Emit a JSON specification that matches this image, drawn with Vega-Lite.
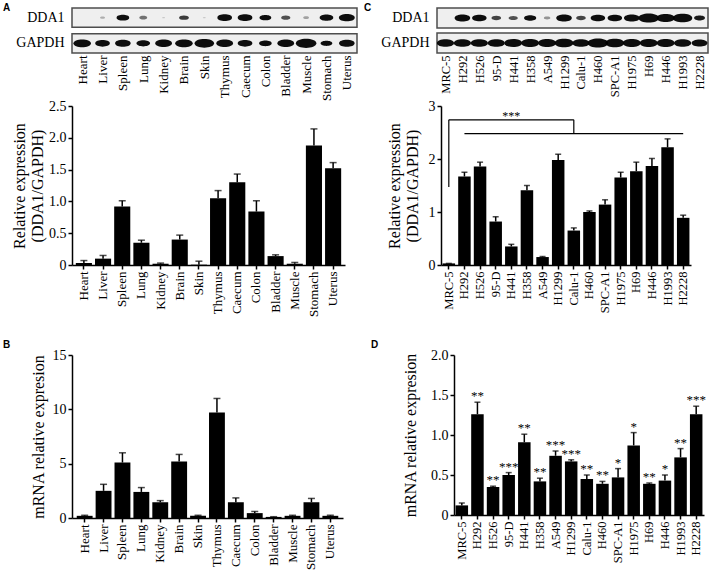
{
  "$schema": "https://vega.github.io/schema/vega-lite/v6.json",
  "background": "white",
  "padding": {"left": 3, "top": 3, "right": 0, "bottom": 0},
  "config": {
    "view": {"stroke": null},
    "font": "Liberation Serif",
    "axis": {
      "domainColor": "black", "domainWidth": 1.5, "tickColor": "black", "tickWidth": 1.5, "tickSize": 4,
      "labelColor": "black", "labelFont": "Liberation Serif", "labelFontSize": 14, "labelPadding": 2, "labelOverlap": false,
      "titleFont": "Liberation Serif", "titleFontSize": 16, "titleFontWeight": "normal", "titleColor": "black", "grid": false
    },
    "title": {"font": "Liberation Sans", "fontSize": 10, "fontWeight": "bold", "anchor": "start", "frame": "group", "color": "black"}
  },
  "datasets": {
    "wbRows": [{"protein": "DDA1"}, {"protein": "GAPDH"}],
    "wbTissue": [
      {"lane": "Heart", "protein": "DDA1", "signal": 0},
      {"lane": "Liver", "protein": "DDA1", "signal": 0.06},
      {"lane": "Spleen", "protein": "DDA1", "signal": 0.38},
      {"lane": "Lung", "protein": "DDA1", "signal": 0.15},
      {"lane": "Kidney", "protein": "DDA1", "signal": 0.02},
      {"lane": "Brain", "protein": "DDA1", "signal": 0.23},
      {"lane": "Skin", "protein": "DDA1", "signal": 0.02},
      {"lane": "Thymus", "protein": "DDA1", "signal": 0.51},
      {"lane": "Caecum", "protein": "DDA1", "signal": 0.51},
      {"lane": "Colon", "protein": "DDA1", "signal": 0.33},
      {"lane": "Bladder", "protein": "DDA1", "signal": 0.2},
      {"lane": "Muscle", "protein": "DDA1", "signal": 0.08},
      {"lane": "Stomach", "protein": "DDA1", "signal": 0.44},
      {"lane": "Uterus", "protein": "DDA1", "signal": 0.6},
      {"lane": "Heart", "protein": "GAPDH", "signal": 0.73},
      {"lane": "Liver", "protein": "GAPDH", "signal": 0.51},
      {"lane": "Spleen", "protein": "GAPDH", "signal": 0.58},
      {"lane": "Lung", "protein": "GAPDH", "signal": 0.44},
      {"lane": "Kidney", "protein": "GAPDH", "signal": 0.66},
      {"lane": "Brain", "protein": "GAPDH", "signal": 0.73},
      {"lane": "Skin", "protein": "GAPDH", "signal": 0.9},
      {"lane": "Thymus", "protein": "GAPDH", "signal": 0.66},
      {"lane": "Caecum", "protein": "GAPDH", "signal": 0.51},
      {"lane": "Colon", "protein": "GAPDH", "signal": 0.38},
      {"lane": "Bladder", "protein": "GAPDH", "signal": 0.66},
      {"lane": "Muscle", "protein": "GAPDH", "signal": 1.0},
      {"lane": "Stomach", "protein": "GAPDH", "signal": 0.33},
      {"lane": "Uterus", "protein": "GAPDH", "signal": 0.58}
    ],
    "wbCell": [
      {"lane": "MRC-5", "protein": "DDA1", "signal": 0},
      {"lane": "H292", "protein": "DDA1", "signal": 0.58},
      {"lane": "H526", "protein": "DDA1", "signal": 0.5},
      {"lane": "95-D", "protein": "DDA1", "signal": 0.22},
      {"lane": "H441", "protein": "DDA1", "signal": 0.2},
      {"lane": "H358", "protein": "DDA1", "signal": 0.35},
      {"lane": "A549", "protein": "DDA1", "signal": 0.1},
      {"lane": "H1299", "protein": "DDA1", "signal": 0.58},
      {"lane": "Calu-1", "protein": "DDA1", "signal": 0.22},
      {"lane": "H460", "protein": "DDA1", "signal": 0.5},
      {"lane": "SPC-A1", "protein": "DDA1", "signal": 0.5},
      {"lane": "H1975", "protein": "DDA1", "signal": 0.58},
      {"lane": "H69", "protein": "DDA1", "signal": 1.0},
      {"lane": "H446", "protein": "DDA1", "signal": 0.78},
      {"lane": "H1993", "protein": "DDA1", "signal": 0.89},
      {"lane": "H2228", "protein": "DDA1", "signal": 0.28},
      {"lane": "MRC-5", "protein": "GAPDH", "signal": 0.7},
      {"lane": "H292", "protein": "GAPDH", "signal": 0.7},
      {"lane": "H526", "protein": "GAPDH", "signal": 0.7},
      {"lane": "95-D", "protein": "GAPDH", "signal": 0.7},
      {"lane": "H441", "protein": "GAPDH", "signal": 0.75},
      {"lane": "H358", "protein": "GAPDH", "signal": 0.75},
      {"lane": "A549", "protein": "GAPDH", "signal": 0.75},
      {"lane": "H1299", "protein": "GAPDH", "signal": 0.85},
      {"lane": "Calu-1", "protein": "GAPDH", "signal": 0.7},
      {"lane": "H460", "protein": "GAPDH", "signal": 1.0},
      {"lane": "SPC-A1", "protein": "GAPDH", "signal": 0.85},
      {"lane": "H1975", "protein": "GAPDH", "signal": 0.75},
      {"lane": "H69", "protein": "GAPDH", "signal": 0.75},
      {"lane": "H446", "protein": "GAPDH", "signal": 0.75},
      {"lane": "H1993", "protein": "GAPDH", "signal": 0.7},
      {"lane": "H2228", "protein": "GAPDH", "signal": 0.6}
    ],
    "protTissue": [
      {"tissue": "Heart", "mean": 0.03, "upper": 0.07},
      {"tissue": "Liver", "mean": 0.1, "upper": 0.15},
      {"tissue": "Spleen", "mean": 0.92, "upper": 1.01},
      {"tissue": "Lung", "mean": 0.35, "upper": 0.39},
      {"tissue": "Kidney", "mean": 0.02, "upper": 0.03},
      {"tissue": "Brain", "mean": 0.4, "upper": 0.47},
      {"tissue": "Skin", "mean": 0.005, "upper": 0.06},
      {"tissue": "Thymus", "mean": 1.05, "upper": 1.17},
      {"tissue": "Caecum", "mean": 1.3, "upper": 1.43},
      {"tissue": "Colon", "mean": 0.84, "upper": 1.01},
      {"tissue": "Bladder", "mean": 0.14, "upper": 0.16},
      {"tissue": "Muscle", "mean": 0.02, "upper": 0.04},
      {"tissue": "Stomach", "mean": 1.88, "upper": 2.14},
      {"tissue": "Uterus", "mean": 1.52, "upper": 1.61}
    ],
    "mrnaTissue": [
      {"tissue": "Heart", "mean": 0.2, "upper": 0.25},
      {"tissue": "Liver", "mean": 2.5, "upper": 3.1},
      {"tissue": "Spleen", "mean": 5.1, "upper": 6.0},
      {"tissue": "Lung", "mean": 2.4, "upper": 2.8},
      {"tissue": "Kidney", "mean": 1.45, "upper": 1.6},
      {"tissue": "Brain", "mean": 5.2, "upper": 5.85},
      {"tissue": "Skin", "mean": 0.2, "upper": 0.25},
      {"tissue": "Thymus", "mean": 9.7, "upper": 11.0},
      {"tissue": "Caecum", "mean": 1.45, "upper": 1.85},
      {"tissue": "Colon", "mean": 0.45, "upper": 0.6},
      {"tissue": "Bladder", "mean": 0.1, "upper": 0.12},
      {"tissue": "Muscle", "mean": 0.2, "upper": 0.25},
      {"tissue": "Stomach", "mean": 1.45, "upper": 1.8},
      {"tissue": "Uterus", "mean": 0.2, "upper": 0.25}
    ],
    "protCell": [
      {"line": "MRC-5", "mean": 0.03, "upper": 0.03},
      {"line": "H292", "mean": 1.67, "upper": 1.75},
      {"line": "H526", "mean": 1.86, "upper": 1.94},
      {"line": "95-D", "mean": 0.82, "upper": 0.91},
      {"line": "H441", "mean": 0.35, "upper": 0.39},
      {"line": "H358", "mean": 1.41, "upper": 1.5},
      {"line": "A549", "mean": 0.15, "upper": 0.16},
      {"line": "H1299", "mean": 1.98, "upper": 2.09},
      {"line": "Calu-1", "mean": 0.65, "upper": 0.7},
      {"line": "H460", "mean": 1.0, "upper": 1.02},
      {"line": "SPC-A1", "mean": 1.14, "upper": 1.23},
      {"line": "H1975", "mean": 1.65, "upper": 1.75},
      {"line": "H69", "mean": 1.77, "upper": 1.94},
      {"line": "H446", "mean": 1.87, "upper": 2.01},
      {"line": "H1993", "mean": 2.22, "upper": 2.38},
      {"line": "H2228", "mean": 0.89, "upper": 0.94}
    ],
    "mrnaCell": [
      {"line": "MRC-5", "mean": 0.12, "upper": 0.15, "sig": ""},
      {"line": "H292", "mean": 1.26, "upper": 1.41, "sig": "**"},
      {"line": "H526", "mean": 0.35, "upper": 0.36, "sig": "**"},
      {"line": "95-D", "mean": 0.5, "upper": 0.53, "sig": "***"},
      {"line": "H441", "mean": 0.91, "upper": 1.01, "sig": "**"},
      {"line": "H358", "mean": 0.42, "upper": 0.46, "sig": "**"},
      {"line": "A549", "mean": 0.74, "upper": 0.8, "sig": "***"},
      {"line": "H1299", "mean": 0.67, "upper": 0.69, "sig": "***"},
      {"line": "Calu-1", "mean": 0.45, "upper": 0.5, "sig": "**"},
      {"line": "H460", "mean": 0.39, "upper": 0.42, "sig": "**"},
      {"line": "SPC-A1", "mean": 0.47, "upper": 0.58, "sig": "*"},
      {"line": "H1975", "mean": 0.87, "upper": 1.03, "sig": "*"},
      {"line": "H69", "mean": 0.39, "upper": 0.4, "sig": "**"},
      {"line": "H446", "mean": 0.43, "upper": 0.5, "sig": "*"},
      {"line": "H1993", "mean": 0.72, "upper": 0.83, "sig": "**"},
      {"line": "H2228", "mean": 1.26, "upper": 1.36, "sig": "***"}
    ],
    "bracket": [
      {"a": "MRC-5", "b": "MRC-5", "lo": 1.47, "hi": 2.74},
      {"a": "MRC-5", "b": "Calu-1", "lo": 2.74, "hi": 2.74},
      {"a": "Calu-1", "b": "Calu-1", "lo": 2.48, "hi": 2.74},
      {"a": "H292", "b": "H2228", "lo": 2.48, "hi": 2.48}
    ],
    "bracketLabel": [{"line": "H441", "y": 2.74, "t": "***"}]
  },
  "vconcat": [
    {
      "hconcat": [
        {
          "width": 285, "height": 45,
          "title": {"text": "A", "dx": -69, "dy": 6, "offset": -8, "baseline": "alphabetic"},
          "encoding": {
            "y": {"field": "protein", "type": "nominal", "sort": null, "scale": {"paddingInner": 0.25, "paddingOuter": 0},
                  "axis": {"title": null, "domain": false, "ticks": false, "labelPadding": 8, "labelFontSize": 14}}
          },
          "layer": [
            {"data": {"name": "wbRows"}, "mark": {"type": "rect", "fill": "#efefef", "stroke": "#4d4d4d", "strokeWidth": 1.5}},
            {
              "data": {"name": "wbTissue"},
              "mark": {"type": "point", "shape": "M-1,0C-1,-0.6,1,-0.6,1,0C1,0.6,-1,0.6,-1,0Z", "filled": true, "color": "#000000", "strokeWidth": 0},
              "encoding": {
                "x": {"field": "lane", "type": "nominal", "sort": null, "scale": {"paddingInner": 0, "paddingOuter": 0.12},
                      "axis": {"title": null, "labelAngle": 270, "domain": false, "ticks": false, "labelFontSize": 13, "labelPadding": 2}},
                "size": {"field": "signal", "type": "quantitative", "scale": {"domain": [0, 1], "range": [0, 420]}, "legend": null},
                "opacity": {"field": "signal", "type": "quantitative", "scale": {"domain": [0, 0.3], "range": [0.1, 0.95], "clamp": true}, "legend": null}
              }
            }
          ]
        },
        {
          "width": 271, "height": 45,
          "title": {"text": "C", "dx": -73, "dy": 6, "offset": -8, "baseline": "alphabetic"},
          "encoding": {
            "y": {"field": "protein", "type": "nominal", "sort": null, "scale": {"paddingInner": 0.2, "paddingOuter": 0},
                  "axis": {"title": null, "domain": false, "ticks": false, "labelPadding": 8, "labelFontSize": 14}}
          },
          "layer": [
            {"data": {"name": "wbRows"}, "mark": {"type": "rect", "fill": "#efefef", "stroke": "#4d4d4d", "strokeWidth": 1.5}},
            {
              "data": {"name": "wbCell"},
              "mark": {"type": "point", "shape": "M-1,0C-1,-0.6,1,-0.6,1,0C1,0.6,-1,0.6,-1,0Z", "filled": true, "color": "#000000", "strokeWidth": 0},
              "encoding": {
                "x": {"field": "lane", "type": "nominal", "sort": null, "scale": {"paddingInner": 0, "paddingOuter": 0.07},
                      "axis": {"title": null, "labelAngle": 270, "domain": false, "ticks": false, "labelFontSize": 12.5, "labelPadding": 2}},
                "size": {"field": "signal", "type": "quantitative", "scale": {"domain": [0, 1], "range": [0, 289]}, "legend": null},
                "opacity": {"field": "signal", "type": "quantitative", "scale": {"domain": [0, 0.3], "range": [0.1, 0.95], "clamp": true}, "legend": null}
              }
            }
          ]
        }
      ],
      "spacing": 6
    },
    {
      "vconcat": [
        {
          "hconcat": [
            {
              "width": 273, "height": 159,
              "data": {"name": "protTissue"},
              "encoding": {
                "x": {"field": "tissue", "type": "nominal", "sort": null, "scale": {"paddingInner": 0.16, "paddingOuter": 0.2},
                      "axis": {"title": null, "labelAngle": 270, "labelFontSize": 13}},
                "y": {"field": "mean", "type": "quantitative", "scale": {"domain": [0, 2.5], "nice": false},
                      "axis": {"title": ["Relative expression", "(DDA1/GAPDH)"], "values": [0, 0.5, 1, 1.5, 2, 2.5], "labelOverlap": false,
                               "labelExpr": "datum.value == 0 ? '0' : format(datum.value, '.1f')", "titlePadding": 3.5, "titleLineHeight": 18}}
              },
              "layer": [
                {"mark": {"type": "bar", "color": "black"}},
                {"mark": {"type": "rule", "color": "black", "strokeWidth": 1.5}, "encoding": {"y2": {"field": "upper"}}},
                {"mark": {"type": "tick", "color": "black", "thickness": 1.5, "size": 7},
                 "encoding": {"y": {"field": "upper", "type": "quantitative",
                   "axis": {"title": ["Relative expression", "(DDA1/GAPDH)"], "values": [0, 0.5, 1, 1.5, 2, 2.5], "labelOverlap": false,
                            "labelExpr": "datum.value == 0 ? '0' : format(datum.value, '.1f')", "titlePadding": 3.5, "titleLineHeight": 18}}}}
              ]
            },
            {
              "width": 250, "height": 159,
              "data": {"name": "protCell"},
              "encoding": {
                "x": {"field": "line", "type": "nominal", "sort": null,
                      "scale": {"domain": ["MRC-5", "H292", "H526", "95-D", "H441", "H358", "A549", "H1299", "Calu-1", "H460", "SPC-A1", "H1975", "H69", "H446", "H1993", "H2228"], "paddingInner": 0.2, "paddingOuter": 0.1},
                      "axis": {"title": null, "labelAngle": 270, "labelFontSize": 12.5}},
                "y": {"field": "mean", "type": "quantitative", "scale": {"domain": [0, 3], "nice": false},
                      "axis": {"title": ["Relative expression", "(DDA1/GAPDH)"], "values": [0, 1, 2, 3], "labelOverlap": false, "titlePadding": 8, "titleLineHeight": 18}}
              },
              "layer": [
                {"mark": {"type": "bar", "color": "black"}},
                {"mark": {"type": "rule", "color": "black", "strokeWidth": 1.5}, "encoding": {"y2": {"field": "upper"}}},
                {"mark": {"type": "tick", "color": "black", "thickness": 1.5, "size": 6},
                 "encoding": {"y": {"field": "upper", "type": "quantitative",
                   "axis": {"title": ["Relative expression", "(DDA1/GAPDH)"], "values": [0, 1, 2, 3], "labelOverlap": false, "titlePadding": 8, "titleLineHeight": 18}}}},
                {"data": {"name": "bracket"}, "mark": {"type": "rule", "color": "black", "strokeWidth": 1.2},
                 "encoding": {"x": {"field": "a", "type": "nominal"}, "x2": {"field": "b"},
                              "y": {"field": "lo", "type": "quantitative",
                                    "axis": {"title": ["Relative expression", "(DDA1/GAPDH)"], "values": [0, 1, 2, 3], "labelOverlap": false, "titlePadding": 8, "titleLineHeight": 18}},
                              "y2": {"field": "hi"}}},
                {"data": {"name": "bracketLabel"}, "mark": {"type": "text", "color": "black", "font": "Liberation Serif", "fontSize": 12, "baseline": "alphabetic", "dy": 0},
                 "encoding": {"x": {"field": "line", "type": "nominal"},
                              "y": {"field": "y", "type": "quantitative",
                                    "axis": {"title": ["Relative expression", "(DDA1/GAPDH)"], "values": [0, 1, 2, 3], "labelOverlap": false, "titlePadding": 8, "titleLineHeight": 18}},
                              "text": {"field": "t"}}}
              ]
            }
          ],
          "spacing": 40
        },
        {
          "hconcat": [
            {
              "width": 271, "height": 163,
              "title": {"text": "B", "dx": -69, "offset": -10, "baseline": "alphabetic"},
              "data": {"name": "mrnaTissue"},
              "encoding": {
                "x": {"field": "tissue", "type": "nominal", "sort": null, "scale": {"paddingInner": 0.16, "paddingOuter": 0.25},
                      "axis": {"title": null, "labelAngle": 270, "labelFontSize": 13}},
                "y": {"field": "mean", "type": "quantitative", "scale": {"domain": [0, 15], "nice": false},
                      "axis": {"title": "mRNA relative expresion", "values": [0, 5, 10, 15], "labelOverlap": false, "titlePadding": 6}}
              },
              "layer": [
                {"mark": {"type": "bar", "color": "black"}},
                {"mark": {"type": "rule", "color": "black", "strokeWidth": 1.5}, "encoding": {"y2": {"field": "upper"}}},
                {"mark": {"type": "tick", "color": "black", "thickness": 1.5, "size": 7},
                 "encoding": {"y": {"field": "upper", "type": "quantitative",
                   "axis": {"title": "mRNA relative expresion", "values": [0, 5, 10, 15], "labelOverlap": false, "titlePadding": 6}}}}
              ]
            },
            {
              "width": 250, "height": 160,
              "title": {"text": "D", "dx": -83, "offset": -10, "baseline": "alphabetic"},
              "data": {"name": "mrnaCell"},
              "encoding": {
                "x": {"field": "line", "type": "nominal", "sort": null, "scale": {"paddingInner": 0.2, "paddingOuter": 0.1},
                      "axis": {"title": null, "labelAngle": 270, "labelFontSize": 12.5}},
                "y": {"field": "mean", "type": "quantitative", "scale": {"domain": [0, 2], "nice": false},
                      "axis": {"title": "mRNA relative expresion", "values": [0, 0.5, 1, 1.5, 2], "labelOverlap": false,
                               "labelExpr": "datum.value == 0 ? '0' : format(datum.value, '.1f')", "titlePadding": 12}}
              },
              "layer": [
                {"mark": {"type": "bar", "color": "black"}},
                {"mark": {"type": "rule", "color": "black", "strokeWidth": 1.5}, "encoding": {"y2": {"field": "upper"}}},
                {"mark": {"type": "tick", "color": "black", "thickness": 1.5, "size": 6},
                 "encoding": {"y": {"field": "upper", "type": "quantitative",
                   "axis": {"title": "mRNA relative expresion", "values": [0, 0.5, 1, 1.5, 2], "labelOverlap": false,
                            "labelExpr": "datum.value == 0 ? '0' : format(datum.value, '.1f')", "titlePadding": 12}}}},
                {"mark": {"type": "text", "color": "black", "font": "Liberation Serif", "fontSize": 13, "baseline": "alphabetic", "dy": -2},
                 "encoding": {"y": {"field": "upper", "type": "quantitative",
                   "axis": {"title": "mRNA relative expresion", "values": [0, 0.5, 1, 1.5, 2], "labelOverlap": false,
                            "labelExpr": "datum.value == 0 ? '0' : format(datum.value, '.1f')", "titlePadding": 12}},
                              "text": {"field": "sig"}}}
              ]
            }
          ],
          "spacing": 28
        }
      ],
      "spacing": 23
    }
  ],
  "spacing": -2
}
